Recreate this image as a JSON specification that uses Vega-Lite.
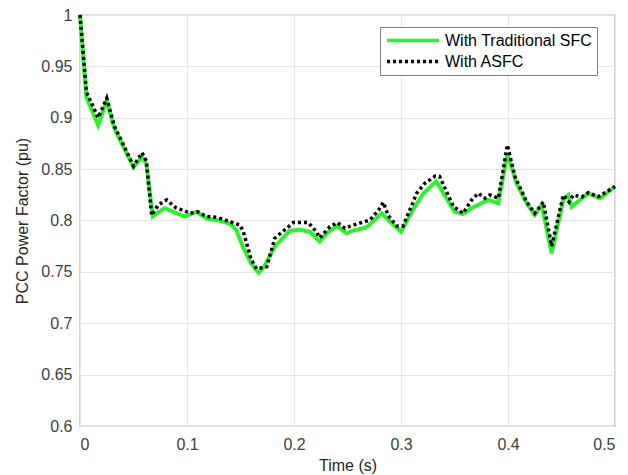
{
  "$schema": "https://vega.github.io/schema/vega-lite/v6.json",
  "width": 535,
  "height": 411,
  "autosize": {"type": "none"},
  "padding": {"left": 80, "top": 15, "right": 13, "bottom": 49},
  "background": "white",
  "config": {
    "font": "Liberation Sans",
    "view": {"stroke": "#707070", "strokeWidth": 1.2},
    "axis": {
      "labelFont": "Liberation Sans",
      "titleFont": "Liberation Sans",
      "labelFontSize": 16,
      "titleFontSize": 16,
      "titleFontWeight": "normal",
      "labelColor": "#404040",
      "titleColor": "#262626",
      "gridColor": "#e4e4e4",
      "gridWidth": 1,
      "domain": false,
      "ticks": false
    }
  },
  "datasets": {
    "pf": [
      {"series": "With Traditional SFC", "t": 0, "pf": 1.0},
      {"series": "With Traditional SFC", "t": 0.006, "pf": 0.92},
      {"series": "With Traditional SFC", "t": 0.012, "pf": 0.905},
      {"series": "With Traditional SFC", "t": 0.017, "pf": 0.8925},
      {"series": "With Traditional SFC", "t": 0.025, "pf": 0.917},
      {"series": "With Traditional SFC", "t": 0.032, "pf": 0.89},
      {"series": "With Traditional SFC", "t": 0.04, "pf": 0.873},
      {"series": "With Traditional SFC", "t": 0.05, "pf": 0.852},
      {"series": "With Traditional SFC", "t": 0.058, "pf": 0.862},
      {"series": "With Traditional SFC", "t": 0.062, "pf": 0.855},
      {"series": "With Traditional SFC", "t": 0.068, "pf": 0.804},
      {"series": "With Traditional SFC", "t": 0.079, "pf": 0.812},
      {"series": "With Traditional SFC", "t": 0.088, "pf": 0.808},
      {"series": "With Traditional SFC", "t": 0.098, "pf": 0.804},
      {"series": "With Traditional SFC", "t": 0.109, "pf": 0.8085},
      {"series": "With Traditional SFC", "t": 0.118, "pf": 0.802},
      {"series": "With Traditional SFC", "t": 0.13, "pf": 0.8},
      {"series": "With Traditional SFC", "t": 0.14, "pf": 0.797},
      {"series": "With Traditional SFC", "t": 0.146, "pf": 0.791},
      {"series": "With Traditional SFC", "t": 0.152, "pf": 0.775},
      {"series": "With Traditional SFC", "t": 0.16, "pf": 0.758},
      {"series": "With Traditional SFC", "t": 0.167, "pf": 0.749},
      {"series": "With Traditional SFC", "t": 0.172, "pf": 0.755},
      {"series": "With Traditional SFC", "t": 0.182, "pf": 0.7745},
      {"series": "With Traditional SFC", "t": 0.196, "pf": 0.79},
      {"series": "With Traditional SFC", "t": 0.205, "pf": 0.791},
      {"series": "With Traditional SFC", "t": 0.215, "pf": 0.789},
      {"series": "With Traditional SFC", "t": 0.224, "pf": 0.7795},
      {"series": "With Traditional SFC", "t": 0.2305, "pf": 0.7875},
      {"series": "With Traditional SFC", "t": 0.2405, "pf": 0.7947},
      {"series": "With Traditional SFC", "t": 0.249, "pf": 0.7875},
      {"series": "With Traditional SFC", "t": 0.255, "pf": 0.79},
      {"series": "With Traditional SFC", "t": 0.268, "pf": 0.7934},
      {"series": "With Traditional SFC", "t": 0.282, "pf": 0.807},
      {"series": "With Traditional SFC", "t": 0.2897, "pf": 0.799},
      {"series": "With Traditional SFC", "t": 0.3, "pf": 0.789},
      {"series": "With Traditional SFC", "t": 0.311, "pf": 0.81},
      {"series": "With Traditional SFC", "t": 0.321, "pf": 0.8265},
      {"series": "With Traditional SFC", "t": 0.333, "pf": 0.838},
      {"series": "With Traditional SFC", "t": 0.35, "pf": 0.8086},
      {"series": "With Traditional SFC", "t": 0.358, "pf": 0.8063},
      {"series": "With Traditional SFC", "t": 0.366, "pf": 0.812},
      {"series": "With Traditional SFC", "t": 0.3816, "pf": 0.82},
      {"series": "With Traditional SFC", "t": 0.391, "pf": 0.8167},
      {"series": "With Traditional SFC", "t": 0.3994, "pf": 0.8654},
      {"series": "With Traditional SFC", "t": 0.408, "pf": 0.8362},
      {"series": "With Traditional SFC", "t": 0.4175, "pf": 0.8167},
      {"series": "With Traditional SFC", "t": 0.425, "pf": 0.8054},
      {"series": "With Traditional SFC", "t": 0.4315, "pf": 0.815},
      {"series": "With Traditional SFC", "t": 0.4408, "pf": 0.768},
      {"series": "With Traditional SFC", "t": 0.4517, "pf": 0.82},
      {"series": "With Traditional SFC", "t": 0.4564, "pf": 0.8248},
      {"series": "With Traditional SFC", "t": 0.4595, "pf": 0.8134},
      {"series": "With Traditional SFC", "t": 0.475, "pf": 0.8265},
      {"series": "With Traditional SFC", "t": 0.486, "pf": 0.8216},
      {"series": "With Traditional SFC", "t": 0.5, "pf": 0.833},
      {"series": "With ASFC", "t": 0, "pf": 1.0},
      {"series": "With ASFC", "t": 0.006, "pf": 0.925},
      {"series": "With ASFC", "t": 0.017, "pf": 0.9},
      {"series": "With ASFC", "t": 0.025, "pf": 0.919},
      {"series": "With ASFC", "t": 0.032, "pf": 0.892},
      {"series": "With ASFC", "t": 0.04, "pf": 0.875},
      {"series": "With ASFC", "t": 0.05, "pf": 0.853},
      {"series": "With ASFC", "t": 0.058, "pf": 0.866},
      {"series": "With ASFC", "t": 0.062, "pf": 0.858},
      {"series": "With ASFC", "t": 0.067, "pf": 0.805},
      {"series": "With ASFC", "t": 0.073, "pf": 0.815},
      {"series": "With ASFC", "t": 0.081, "pf": 0.82},
      {"series": "With ASFC", "t": 0.09, "pf": 0.812},
      {"series": "With ASFC", "t": 0.0966, "pf": 0.81},
      {"series": "With ASFC", "t": 0.103, "pf": 0.807},
      {"series": "With ASFC", "t": 0.11, "pf": 0.8085},
      {"series": "With ASFC", "t": 0.118, "pf": 0.804},
      {"series": "With ASFC", "t": 0.128, "pf": 0.803},
      {"series": "With ASFC", "t": 0.137, "pf": 0.8},
      {"series": "With ASFC", "t": 0.1495, "pf": 0.7956},
      {"series": "With ASFC", "t": 0.1527, "pf": 0.789},
      {"series": "With ASFC", "t": 0.16, "pf": 0.762},
      {"series": "With ASFC", "t": 0.165, "pf": 0.753},
      {"series": "With ASFC", "t": 0.1745, "pf": 0.755},
      {"series": "With ASFC", "t": 0.182, "pf": 0.7827},
      {"series": "With ASFC", "t": 0.1994, "pf": 0.798},
      {"series": "With ASFC", "t": 0.2134, "pf": 0.798},
      {"series": "With ASFC", "t": 0.221, "pf": 0.789},
      {"series": "With ASFC", "t": 0.224, "pf": 0.783},
      {"series": "With ASFC", "t": 0.2336, "pf": 0.794},
      {"series": "With ASFC", "t": 0.2405, "pf": 0.798},
      {"series": "With ASFC", "t": 0.2477, "pf": 0.7924},
      {"series": "With ASFC", "t": 0.2585, "pf": 0.7966},
      {"series": "With ASFC", "t": 0.271, "pf": 0.8005},
      {"series": "With ASFC", "t": 0.279, "pf": 0.81},
      {"series": "With ASFC", "t": 0.2835, "pf": 0.8177},
      {"series": "With ASFC", "t": 0.288, "pf": 0.805},
      {"series": "With ASFC", "t": 0.296, "pf": 0.7947},
      {"series": "With ASFC", "t": 0.302, "pf": 0.7947},
      {"series": "With ASFC", "t": 0.3147, "pf": 0.8265},
      {"series": "With ASFC", "t": 0.322, "pf": 0.836},
      {"series": "With ASFC", "t": 0.332, "pf": 0.8433},
      {"series": "With ASFC", "t": 0.336, "pf": 0.843},
      {"series": "With ASFC", "t": 0.349, "pf": 0.8135},
      {"series": "With ASFC", "t": 0.358, "pf": 0.807},
      {"series": "With ASFC", "t": 0.366, "pf": 0.82},
      {"series": "With ASFC", "t": 0.3723, "pf": 0.8265},
      {"series": "With ASFC", "t": 0.3785, "pf": 0.8216},
      {"series": "With ASFC", "t": 0.383, "pf": 0.8248},
      {"series": "With ASFC", "t": 0.391, "pf": 0.8216},
      {"series": "With ASFC", "t": 0.3994, "pf": 0.8735},
      {"series": "With ASFC", "t": 0.4065, "pf": 0.8427},
      {"series": "With ASFC", "t": 0.4175, "pf": 0.818},
      {"series": "With ASFC", "t": 0.425, "pf": 0.807},
      {"series": "With ASFC", "t": 0.433, "pf": 0.818},
      {"series": "With ASFC", "t": 0.4408, "pf": 0.775},
      {"series": "With ASFC", "t": 0.4517, "pf": 0.8248},
      {"series": "With ASFC", "t": 0.457, "pf": 0.818},
      {"series": "With ASFC", "t": 0.461, "pf": 0.8248},
      {"series": "With ASFC", "t": 0.469, "pf": 0.823},
      {"series": "With ASFC", "t": 0.475, "pf": 0.827},
      {"series": "With ASFC", "t": 0.4844, "pf": 0.8232},
      {"series": "With ASFC", "t": 0.5, "pf": 0.833}
    ]
  },
  "data": {"name": "pf"},
  "encoding": {
    "x": {
      "field": "t", "type": "quantitative",
      "scale": {"domain": [0, 0.5], "nice": false, "zero": false},
      "axis": {"values": [0, 0.1, 0.2, 0.3, 0.4, 0.5], "format": "~g", "title": "Time (s)", "labelPadding": 10, "titlePadding": 5}
    },
    "y": {
      "field": "pf", "type": "quantitative",
      "scale": {"domain": [0.6, 1], "nice": false, "zero": false},
      "axis": {"values": [0.6, 0.65, 0.7, 0.75, 0.8, 0.85, 0.9, 0.95, 1], "format": "~g", "title": "PCC Power Factor (pu)", "labelPadding": 8, "titlePadding": 10}
    },
    "color": {
      "field": "series", "type": "nominal",
      "scale": {"domain": ["With Traditional SFC", "With ASFC"], "range": ["#2ff02f", "#000000"]},
      "legend": {
        "title": null, "orient": "none", "legendX": 300, "legendY": 12,
        "direction": "vertical",
        "symbolType": "stroke", "symbolSize": 2700, "symbolStrokeWidth": 3.5,
        "clipHeight": 17,
        "labelFont": "Liberation Sans", "labelFontSize": 16, "labelColor": "#000000",
        "strokeColor": "#808080", "fillColor": "white", "padding": 5,
        "rowPadding": 4, "labelOffset": 4
      }
    },
    "strokeDash": {
      "field": "series", "type": "nominal",
      "scale": {"domain": ["With Traditional SFC", "With ASFC"], "range": [[1, 0], [3, 3]]},
      "legend": null
    }
  },
  "layer": [
    {
      "transform": [{"filter": "datum.series == 'With Traditional SFC'"}],
      "mark": {"type": "line", "strokeWidth": 4}
    },
    {
      "transform": [{"filter": "datum.series == 'With ASFC'"}],
      "mark": {"type": "line", "strokeWidth": 3.5}
    }
  ]
}
